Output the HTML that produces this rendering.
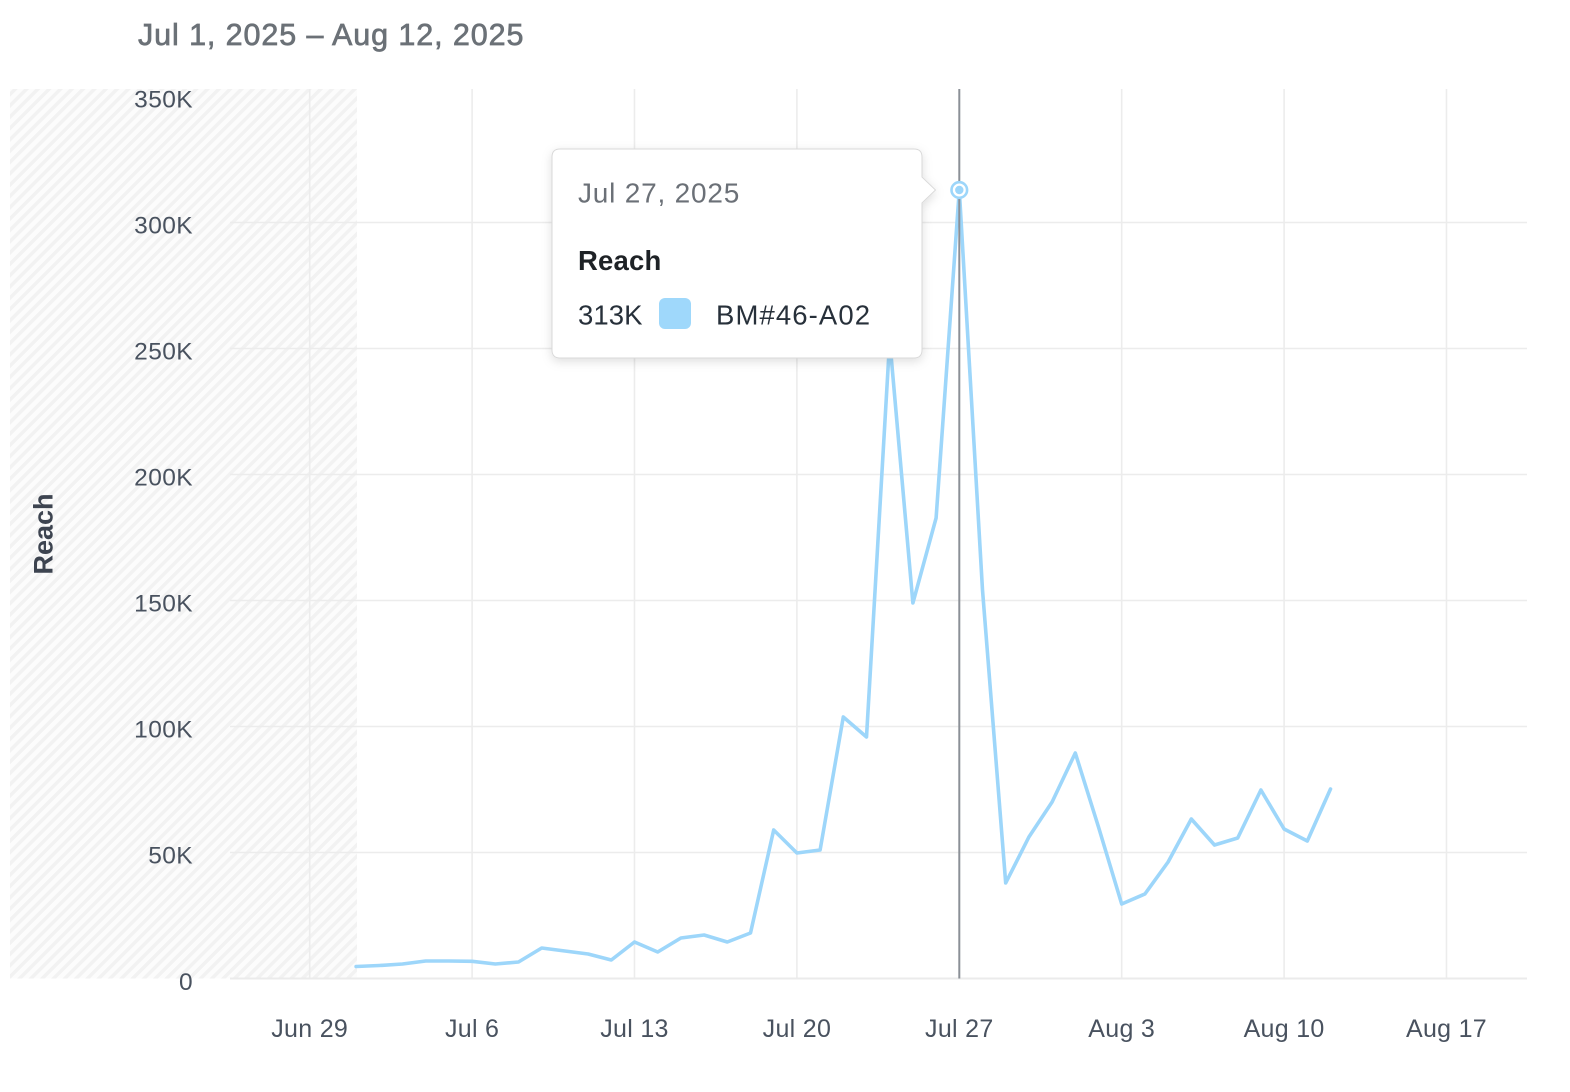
<!DOCTYPE html>
<html>
<head>
<meta charset="utf-8">
<style>
  html,body{margin:0;padding:0;background:#ffffff;}
  body{width:1570px;height:1092px;overflow:hidden;}
  svg{display:block;}
  text{font-family:"Liberation Sans", Arial, sans-serif;}
</style>
</head>
<body>
<svg width="1570" height="1092" viewBox="0 0 1570 1092" xmlns="http://www.w3.org/2000/svg">
  <defs>
    <pattern id="hatch" patternUnits="userSpaceOnUse" width="8" height="8" patternTransform="rotate(45)">
      <rect x="0" y="0" width="8" height="8" fill="#fcfcfc"/>
      <rect x="0" y="0" width="3.5" height="8" fill="#f2f2f2"/>
    </pattern>
    <filter id="shadow" x="-20%" y="-20%" width="140%" height="150%">
      <feDropShadow dx="0" dy="3" stdDeviation="5" flood-color="#000000" flood-opacity="0.13"/>
    </filter>
  </defs>

  <!-- Title -->
  <text x="138" y="45" font-size="30.5" fill="#6b7177" stroke="#6b7177" stroke-width="0.7" letter-spacing="0.9">Jul 1, 2025 – Aug 12, 2025</text>

  <!-- Hatched region (before data range) -->
  <rect x="10" y="89" width="347" height="889.5" fill="url(#hatch)"/>

  <!-- Horizontal gridlines -->
  <g stroke="#ececec" stroke-width="1.6">
    <line x1="230" y1="852.5" x2="1527" y2="852.5"/>
    <line x1="230" y1="726.5" x2="1527" y2="726.5"/>
    <line x1="230" y1="600.5" x2="1527" y2="600.5"/>
    <line x1="230" y1="474.5" x2="1527" y2="474.5"/>
    <line x1="230" y1="348.5" x2="1527" y2="348.5"/>
    <line x1="230" y1="222.5" x2="1527" y2="222.5"/>
  </g>
  <!-- Vertical gridlines -->
  <g stroke="#ececec" stroke-width="1.6">
    <line x1="309.7" y1="89" x2="309.7" y2="978.5"/>
    <line x1="472.1" y1="89" x2="472.1" y2="978.5"/>
    <line x1="634.5" y1="89" x2="634.5" y2="978.5"/>
    <line x1="796.9" y1="89" x2="796.9" y2="978.5"/>
    <line x1="1121.7" y1="89" x2="1121.7" y2="978.5"/>
    <line x1="1284.1" y1="89" x2="1284.1" y2="978.5"/>
    <line x1="1446.5" y1="89" x2="1446.5" y2="978.5"/>
  </g>
  <!-- Baseline -->
  <line x1="230" y1="978.5" x2="1527" y2="978.5" stroke="#ebebeb" stroke-width="2"/>

  <!-- Data line -->
  <polyline fill="none" stroke="#9dd6fa" stroke-width="3.6" stroke-linejoin="round" stroke-linecap="round"
    points="356.1,966.5 379.3,965.5 402.5,964 425.7,961 448.9,961 472.1,961.3 495.3,964 518.5,962 541.7,948 564.9,951 588.1,954 611.3,960 634.5,942 657.7,952 680.9,938 704.1,935 727.3,942 750.5,933 773.7,830 796.9,853 820.1,850 843.3,717 866.5,737 889.7,340 912.9,603 936.1,518 959.3,190 982.5,590 1005.7,883 1028.9,837 1052.1,802 1075.3,753 1098.5,827 1121.7,904 1144.9,894 1168.1,862 1191.3,819 1214.5,845 1237.7,838 1260.9,790 1284.1,829 1307.3,841 1330.5,789"/>

  <!-- Crosshair -->
  <line x1="959.3" y1="89" x2="959.3" y2="978.5" stroke="#8b9097" stroke-width="2"/>

  <!-- Marker -->
  <circle cx="959.3" cy="190" r="7.8" fill="#ffffff" stroke="#9dd6fa" stroke-width="2.6"/>
  <circle cx="959.3" cy="190" r="4.2" fill="#9dd6fa"/>

  <!-- Tooltip -->
  <path filter="url(#shadow)" fill="#ffffff" stroke="#dadada" stroke-width="1"
    d="M560,149 L914,149 Q922,149 922,157 L922,177 L935.5,190 L922,203 L922,350 Q922,358 914,358 L560,358 Q552,358 552,350 L552,157 Q552,149 560,149 Z"/>
  <text x="578" y="202.5" font-size="28" fill="#6b7077" letter-spacing="0.8">Jul 27, 2025</text>
  <text x="578" y="270" font-size="27.5" font-weight="bold" fill="#1e2226" letter-spacing="0.2">Reach</text>
  <text x="578" y="324.5" font-size="27.5" fill="#27303a" letter-spacing="0.1">313K</text>
  <rect x="659" y="298" width="32" height="31" rx="6" ry="6" fill="#9fd8fb"/>
  <text x="716" y="324.5" font-size="27.5" fill="#27303a" letter-spacing="1.1">BM#46-A02</text>

  <!-- Y axis labels -->
  <g font-size="24.5" fill="#49525f" text-anchor="end" letter-spacing="0.4">
    <text x="193" y="107.5">350K</text>
    <text x="193" y="233.5">300K</text>
    <text x="193" y="359.5">250K</text>
    <text x="193" y="485.5">200K</text>
    <text x="193" y="611.5">150K</text>
    <text x="193" y="737.5">100K</text>
    <text x="193" y="863.5">50K</text>
    <text x="193" y="990">0</text>
  </g>

  <!-- Y axis title -->
  <text transform="translate(52.5,534) rotate(-90)" text-anchor="middle" font-size="27" font-weight="bold" fill="#3d4450">Reach</text>

  <!-- X axis labels -->
  <g font-size="25" fill="#49525f" text-anchor="middle" letter-spacing="0.3">
    <text x="309.7" y="1037">Jun 29</text>
    <text x="472.1" y="1037">Jul 6</text>
    <text x="634.5" y="1037">Jul 13</text>
    <text x="796.9" y="1037">Jul 20</text>
    <text x="959.3" y="1037">Jul 27</text>
    <text x="1121.7" y="1037">Aug 3</text>
    <text x="1284.1" y="1037">Aug 10</text>
    <text x="1446.5" y="1037">Aug 17</text>
  </g>
</svg>
</body>
</html>
